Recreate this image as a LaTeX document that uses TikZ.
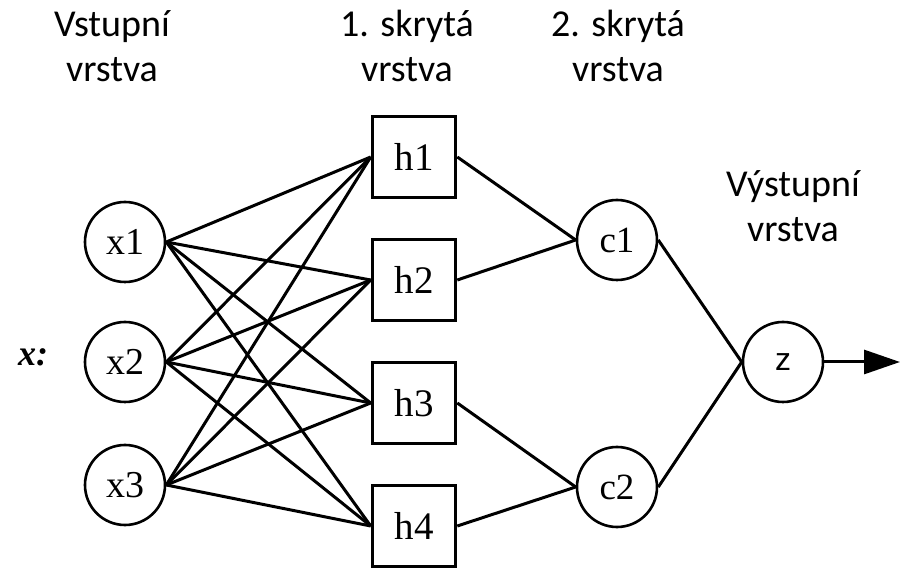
\documentclass[tikz,border=0pt]{standalone}
\usepackage{fontspec}
\setmainfont{Liberation Serif}
\newfontfamily\layerfont{Carlito}
\newfontfamily\outfont{Liberation Sans}
\usetikzlibrary{positioning,arrows.meta}

\begin{document}
\begin{tikzpicture}[x=0.5pt, y=-0.5pt, line width=1.5pt, node distance=61.5pt,
	neuron/.style={circle, draw, line width=1.3pt, minimum size=40pt, inner sep=0pt, font=\fontsize{19}{22}\selectfont},
	hidden/.style={rectangle, draw, line width=1.8pt, minimum width=41.5pt, minimum height=40.5pt, inner sep=0pt, font=\fontsize{19.5}{22}\selectfont},
	layer/.style={align=center, anchor=base, font=\layerfont\fontsize{19}{22.5}\selectfont}]
	
	\useasboundingbox (0,0) rectangle (900,571);
	
	% vstupni vrstva
	\node [neuron] (x2) at (125,362) {x2};
	\node [neuron] (x1) [above of=x2, node distance=60pt] {x1};
	\node [neuron] (x3) [below of=x2] {x3};
	\node [font=\bfseries\itshape\fontsize{18}{21}\selectfont] (xin) at (33,357) {x:};
	
	% skryte vrstvy
	\node [hidden] (h1) at (414,157) {h1};
	\node [hidden] (h2) [below of=h1] {h2};
	\node [hidden] (h3) [below of=h2] {h3};
	\node [hidden] (h4) [below of=h3] {h4};
	
	\node [neuron, font=\fontsize{18.5}{21}\selectfont] (c1) at (617,240) {c1};
	\node [neuron, font=\fontsize{18.5}{21}\selectfont] (c2) at (617,487) {c2};
	
	% vystup
	\node [neuron, font=\outfont\fontsize{16}{19}\selectfont] (z) at (783,362) {z};
	\coordinate (out) at (900,362);
	
	\node [layer] (inlayer) at (112,82) {Vstupní\\vrstva};
	\node [layer] (hidlayer1) at (407,82) {1. skrytá\\vrstva};
	\node [layer] (hidlayer2) at (618,82) {2. skrytá\\vrstva};
	\node [layer] (outlayer) at (793,242) {Výstupní\\vrstva};
	
	\path (x1.east) edge (h1.west);
	\path (x1.east) edge (h2.west);
	\path (x1.east) edge (h3.west);
	\path (x1.east) edge (h4.west);
	
	\path (x2.east) edge (h1.west);
	\path (x2.east) edge (h2.west);
	\path (x2.east) edge (h3.west);
	\path (x2.east) edge (h4.west);
	
	\path (x3.east) edge (h1.west);
	\path (x3.east) edge (h2.west);
	\path (x3.east) edge (h3.west);
	\path (x3.east) edge (h4.west);
	
	\path (h1.east) edge (c1.west);
	\path (h2.east) edge (c1.west);
	\path (h3.east) edge (c2.west);
	\path (h4.east) edge (c2.west);
	
	\path (c1.east) edge (z.west);
	\path (c2.east) edge (z.west);
	
	\draw [-{Triangle[length=18pt, width=12pt]}] (z) -- (out);
\end{tikzpicture}
\end{document}
